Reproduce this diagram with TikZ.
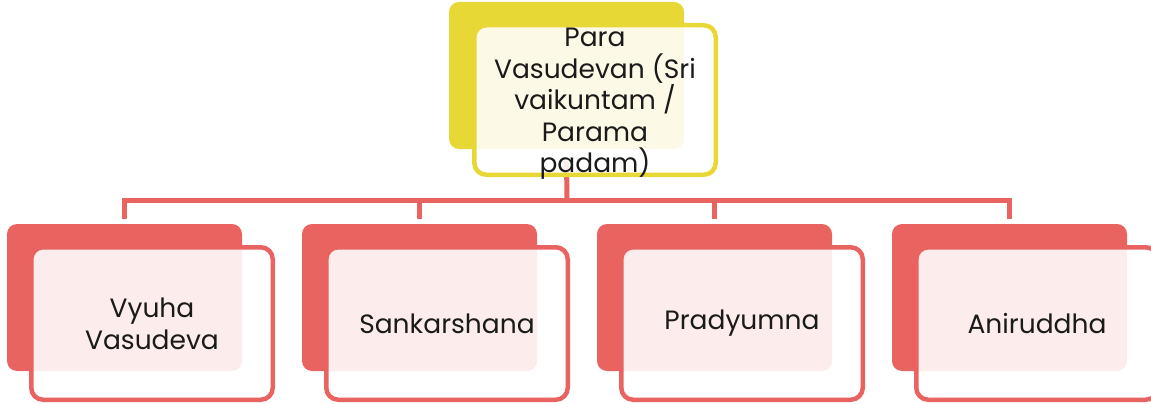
\documentclass[tikz,border=0pt]{standalone}
\usepackage{fontspec}
\setmainfont{Poppins}
\definecolor{cred}{HTML}{E96461}
\definecolor{cyel}{HTML}{E8D836}
\definecolor{ctext}{HTML}{1A1A1A}
\begin{document}
\begin{tikzpicture}[x=1pt,y=-1pt,
  backbox/.style={draw=none, rounded corners=10pt, minimum width=235pt, minimum height=147pt, anchor=north west, inner sep=0pt, outer sep=0pt},
  frontbox/.style={rounded corners=12pt, line width=4.5pt, fill=white, fill opacity=0.88, draw opacity=1, text opacity=1,
    minimum width=241.5pt, minimum height=152.5pt, anchor=north west, inner sep=0pt, outer sep=0pt,
    align=center, text=ctext, font=\fontsize{26.5}{32}\selectfont},
  boxtext/.style={align=center, text=ctext, inner sep=0pt, font=\fontsize{26.5}{31.5}\selectfont},
  conn/.style={draw=cred, line width=5pt}]
\useasboundingbox (0,0) rectangle (1151,404);
% back boxes
\node[backbox, fill=cyel] (tb) at (449,2) {};
\node[backbox, fill=cred] (b1) at (7,224) {};
\node[backbox, fill=cred] (b2) at (302,224) {};
\node[backbox, fill=cred] (b3) at (597,224) {};
\node[backbox, fill=cred] (b4) at (892,224) {};
% connectors
\coordinate (bus) at (567,200);
\draw[conn] ([yshift=-12pt]tb.south) -- (bus);
\draw[conn] ([yshift=5pt]b1.north) |- (bus) -| ([yshift=5pt]b4.north);
\draw[conn] ([yshift=5pt]b2.north) -- (b2.north |- bus);
\draw[conn] ([yshift=5pt]b3.north) -- (b3.north |- bus);
% front boxes
\node[frontbox, draw=cyel, minimum height=149.5pt] (tf) at (474.25,25.25) {};
\node[boxtext] (tt) at ([yshift=-4pt]tf.center) {Para\\Vasudevan (Sri\\vaikuntam /\\Parama\\padam)};
\node[frontbox, draw=cred] (f1) at (31.25,247.25) {Vyuha\\Vasudeva};
\node[frontbox, draw=cred] (f2) at (326.25,247.25) {Sankarshana};
\node[frontbox, draw=cred] (f3) at (621.25,247.25) {Pradyumna};
\node[frontbox, draw=cred] (f4) at (916.25,247.25) {Aniruddha};
\end{tikzpicture}
\end{document}
